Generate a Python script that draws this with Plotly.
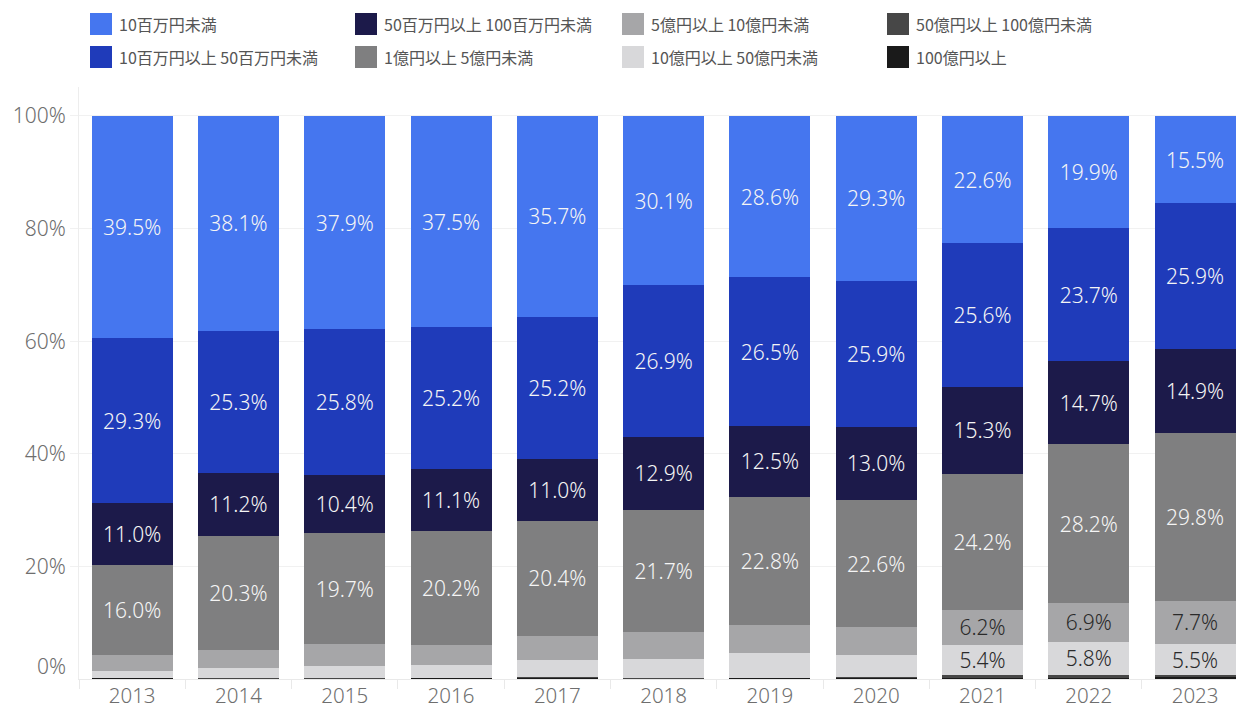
import plotly.graph_objects as go

years = ["2013", "2014", "2015", "2016", "2017", "2018", "2019", "2020", "2021", "2022", "2023"]

series_names = [
    "10百万円未満",
    "10百万円以上 50百万円未満",
    "50百万円以上 100百万円未満",
    "1億円以上 5億円未満",
    "5億円以上 10億円未満",
    "10億円以上 50億円未満",
    "50億円以上 100億円未満",
    "100億円以上",
]

under_10m = [39.5, 38.1, 37.9, 37.5, 35.7, 30.1, 28.6, 29.3, 22.6, 19.9, 15.5]
m10_50 = [29.3, 25.3, 25.8, 25.2, 25.2, 26.9, 26.5, 25.9, 25.6, 23.7, 25.9]
m50_100 = [11.0, 11.2, 10.4, 11.1, 11.0, 12.9, 12.5, 13.0, 15.3, 14.7, 14.9]
oku1_5 = [16.0, 20.3, 19.7, 20.2, 20.4, 21.7, 22.8, 22.6, 24.2, 28.2, 29.8]
oku5_10 = [2.8, 3.2, 3.9, 3.6, 4.4, 4.8, 5.0, 5.0, 6.2, 6.9, 7.7]
oku10_50 = [1.2, 1.8, 2.2, 2.2, 2.9, 3.5, 4.4, 3.8, 5.4, 5.8, 5.5]
oku50_100 = [0.1, 0.05, 0.05, 0.1, 0.2, 0.05, 0.1, 0.2, 0.6, 0.7, 0.4]
oku100_plus = [0.1, 0.05, 0.05, 0.1, 0.2, 0.05, 0.1, 0.2, 0.1, 0.1, 0.3]

series_values = [under_10m, m10_50, m50_100, oku1_5, oku5_10, oku10_50, oku50_100, oku100_plus]
series_colors = ["#4576EF", "#1F3BBA", "#1C1A4A", "#7F7F80", "#A6A6A8", "#D8D8DA", "#474747", "#1A1A1A"]
text_colors = ["#F5F5F5", "#F5F5F5", "#F5F5F5", "#F5F5F5", "#2A2A2A", "#2A2A2A", "#F5F5F5", "#F5F5F5"]

y_tick_vals = [20, 40, 60, 80, 100]
y_tick_text = ["20%", "40%", "60%", "80%", "100%"]

FONT = "Noto Sans, Noto Sans CJK JP, sans-serif"
LABEL_MIN = 5.3

W, H = 1236, 708
ML, MR, MT, MB = 79, 0, 87, 29
PW, PH = W - ML - MR, H - MT - MB


def px_to_paper(px, py):
    return (px - ML) / PW, (H - MB - py) / PH


fig = go.Figure()

# stack bottom-first
for i in reversed(range(len(series_names))):
    vals = series_values[i]
    txt = [f"{v:.1f}%" if v >= LABEL_MIN else "" for v in vals]
    fig.add_trace(go.Bar(
        x=years, y=vals, name=series_names[i],
        marker=dict(color=series_colors[i], line=dict(width=0)),
        text=txt, textposition="inside", insidetextanchor="middle",
        textangle=0, constraintext="none",
        textfont=dict(family=FONT, size=21, weight=300, color=text_colors[i]),
        hoverinfo="skip", showlegend=False,
    ))

# manual legend (2 rows x 4 columns, column-major order)
col_x = [90, 355, 622, 887]
row_y = [24, 57]
shapes = []
annotations = []
for i, name in enumerate(series_names):
    c, r = i // 2, i % 2
    x0, yc = col_x[c], row_y[r]
    px0, py0 = px_to_paper(x0, yc + 11)
    px1, py1 = px_to_paper(x0 + 22, yc - 11)
    shapes.append(dict(type="rect", xref="paper", yref="paper", x0=px0, x1=px1, y0=py0, y1=py1,
                       fillcolor=series_colors[i], line=dict(width=0)))
    tx, ty = px_to_paper(x0 + 27, yc)
    annotations.append(dict(xref="paper", yref="paper", x=tx, y=ty, xanchor="left", yanchor="middle",
                            text=name, showarrow=False,
                            font=dict(family="Noto Sans CJK JP, sans-serif", size=16, color="#555555")))

# 0% label (shifted up like the reference)
zx, zy = px_to_paper(68, 666)
annotations.append(dict(xref="paper", yref="paper", x=zx, y=zy, xanchor="right", yanchor="middle",
                        text="0%", showarrow=False, font=dict(family=FONT, size=21, weight=300, color="#6E6E6E")))

fig.update_layout(
    width=W, height=H,
    margin=dict(l=ML, r=MR, t=MT, b=MB, autoexpand=False),
    barmode="stack", bargap=0.238,
    plot_bgcolor="white", paper_bgcolor="white",
    font=dict(family=FONT, color="#6E6E6E"),
    shapes=shapes, annotations=annotations,
    showlegend=False,
)
fig.update_xaxes(
    type="category", range=[-0.5, 10.385], showgrid=False,
    ticks="outside", tickson="boundaries", ticklen=9, tickcolor="#E9E9E9",
    showline=True, linecolor="#E9E9E9", linewidth=1,
    ticklabelstandoff=-2,
    tickfont=dict(family=FONT, size=20.5, weight=300, color="#6E6E6E"), automargin=False,
)
fig.update_yaxes(
    range=[0, 105.15], tickvals=y_tick_vals, ticktext=y_tick_text,
    showgrid=True, gridcolor="#F1F1F1", gridwidth=1,
    ticks="outside", ticklen=8, tickcolor="#F1F1F1",
    showline=True, linecolor="#EDEDED", linewidth=1,
    zeroline=False,
    tickfont=dict(family=FONT, size=21, weight=300, color="#6E6E6E"), automargin=False,
)

fig.write_html(
    "out.html",
    config={"displayModeBar": False, "staticPlot": True},
    post_script="document.body.style.margin='0';document.body.style.overflow='hidden';",
)
